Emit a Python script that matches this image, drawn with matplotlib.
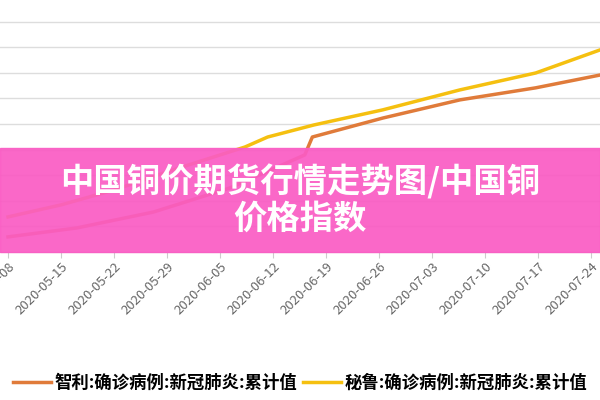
import matplotlib
matplotlib.use("Agg")
import matplotlib.pyplot as plt
import matplotlib.dates as mdates
import datetime as dt
from matplotlib.patches import Rectangle

plt.rcParams['font.family'] = ['Noto Sans CJK SC', 'DejaVu Sans']

start = dt.date(2020, 5, 8)
peru_days = [0, 7, 14, 21, 31.3, 34.3, 40.4, 49.5, 59.7, 69.7, 78.2]
peru_vals = [1.37, 1.84, 2.42, 3.13, 4.1, 4.49, 4.96, 5.55, 6.33, 6.99, 7.89]
chile_days = [0, 9.1, 19.2, 29.3, 39.2, 40.2, 49.5, 59.7, 69.7, 78.2]
chile_vals = [0.59, 0.94, 1.56, 2.5, 3.79, 4.49, 5.23, 5.94, 6.41, 6.91]
tick_days = list(range(0, 78, 7))
legend_chile = "智利:确诊病例:新冠肺炎:累计值"
legend_peru = "秘鲁:确诊病例:新冠肺炎:累计值"
title = "中国铜价期货行情走势图/中国铜\n价格指数"

def d(x):
    return mdates.date2num(dt.datetime(2020, 5, 8)) + x

fig = plt.figure(figsize=(6, 4), dpi=100)
ax = fig.add_axes([0, 0.37, 1, 0.63])
ax.plot([d(x) for x in chile_days], chile_vals, color='#e07b3a', lw=2.5, label=legend_chile)
ax.plot([d(x) for x in peru_days], peru_vals, color='#f5c010', lw=2.5, label=legend_peru)
ax.set_xlim(d(-1.06), d(78.2))
ax.set_ylim(0, 9.84)
ax.set_yticks(range(1, 10))
ax.yaxis.grid(True, color='#dddddd', lw=1)
ax.tick_params(axis='y', length=0, labelleft=False)
for s in ['left', 'right', 'top']:
    ax.spines[s].set_visible(False)
ax.spines['bottom'].set_color('#cccccc')
ax.set_xticks([d(x) for x in tick_days])
ax.set_xticklabels([(start + dt.timedelta(days=x)).strftime('%Y-%m-%d') for x in tick_days],
                   rotation=45, ha='right', rotation_mode='anchor', fontsize=9.5, color='#666666')
ax.tick_params(axis='x', color='#cccccc', length=4, pad=2)

fig.legend(loc='center', bbox_to_anchor=(0.5, 0.043), ncol=2, frameon=False,
           handlelength=2.2, columnspacing=0.3, handletextpad=0.2,
           prop={'size': 12.5, 'weight': 'bold'})

fig.patches.append(Rectangle((0, 0.37), 1, 0.26, transform=fig.transFigure,
                             color='#fa5cc4', alpha=0.93, zorder=5))
fig.text(0.5, 0.5, title, ha='center', va='center', color='white', fontsize=24,
         fontweight='bold', zorder=6, linespacing=1.1)
fig.savefig('out.png')
